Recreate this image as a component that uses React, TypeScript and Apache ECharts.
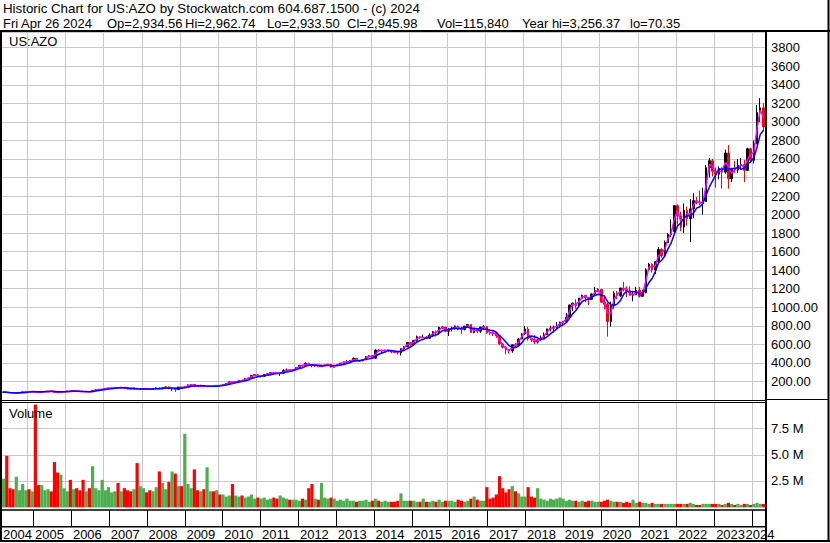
import React, { useEffect, useRef } from "react";
import * as echarts from "echarts";

// ---------- data (monthly, May 2004 .. Apr 2024) ----------
const FIRST_YEAR = 2004;
const FIRST_MONTH = 5; // May
const firstOpen = 84;

const closes = [
  85.5, 80.0, 77.5, 74.5, 75.0, 82.0, 87.5, 91.3,
  89.3, 93.1, 85.7, 82.5, 89.6, 93.0, 96.5, 95.5, 83.3, 80.8, 88.0, 91.7,
  98.0, 95.6, 99.7, 93.6, 88.9, 88.2, 90.9, 88.9, 103.2, 112.8, 114.3, 115.6,
  125.6, 126.8, 128.1, 133.1, 131.4, 136.6, 129.5, 120.7, 116.2, 125.0, 116.5, 119.9,
  120.8, 116.1, 113.8, 120.8, 129.6, 121.0, 130.8, 140.4, 123.3, 127.3, 113.7, 139.5,
  133.0, 142.2, 162.6, 166.8, 151.8, 151.1, 153.7, 145.7, 146.2, 147.9, 147.3, 158.1,
  155.0, 166.8, 177.0, 195.6, 193.0, 193.2, 211.8, 208.8, 228.9, 237.6, 264.7, 272.6,
  253.3, 256.5, 273.6, 282.4, 295.1, 295.0, 285.7, 288.7, 319.2, 323.6, 323.4, 325.0,
  348, 374, 372, 396, 381, 367, 375, 360, 373, 375, 385, 354,
  371, 380, 397, 411, 412, 424, 449, 420, 424, 434, 468, 478,
  451, 538, 532, 534, 536, 536, 518, 516, 510, 553, 577, 619,
  597, 643, 682, 673, 677, 666, 701, 735, 724, 784, 786, 742,
  765, 775, 797, 766, 762, 795, 814, 729, 768, 742, 785, 790,
  725, 724, 723, 692, 605, 570, 540, 529, 595, 590, 657, 711,
  766, 664, 649, 625, 649, 670, 705, 767, 776, 784, 806, 838,
  847, 892, 1024, 1044, 1017, 1099, 1128, 1101, 1085, 1144, 1178, 1191,
  1054, 1033, 846, 1017, 1149, 1128, 1207, 1197, 1178, 1129, 1137, 1185,
  1119, 1160, 1404, 1464, 1405, 1492, 1624, 1553, 1698, 1785, 1817, 2096,
  1986, 1865, 2045, 1956, 2061, 2149, 2137, 2121, 2142, 2505, 2580, 2466,
  2435, 2487, 2458, 2664, 2387, 2493, 2482, 2532, 2540, 2477, 2710, 2586,
  2762, 3100, 3151, 2945,
];

const highs = [
  88, 87, 81, 78, 78, 83, 88, 93,
  92, 96, 95, 88, 91, 94, 99, 100, 97, 85, 89, 93,
  99, 100, 101, 101, 95, 92, 93, 94, 104, 114, 116, 118,
  127, 129, 131, 135, 137, 138, 140, 132, 122, 127, 126, 124,
  122, 124, 120, 123, 136, 133, 134, 143, 148, 131, 130, 141,
  141, 146, 165, 172, 168, 155, 156, 155, 151, 150, 152, 160,
  162, 168, 178, 198, 197, 200, 213, 213, 233, 240, 266, 275,
  275, 261, 275, 285, 300, 302, 298, 295, 332, 340, 334, 330,
  350, 375, 378, 406, 404, 385, 381, 375, 380, 380, 388, 388,
  375, 384, 400, 413, 430, 430, 458, 452, 432, 440, 470, 480,
  485, 545, 552, 543, 542, 540, 538, 525, 524, 556, 580, 625,
  625, 646, 695, 689, 705, 690, 720, 744, 750, 790, 795, 788,
  775, 790, 805, 802, 790, 800, 819, 815, 775, 770, 790, 810,
  800, 740, 745, 725, 700, 615, 580, 540, 600, 615, 670, 720,
  797, 790, 671, 700, 660, 695, 728, 770, 800, 803, 840, 845,
  850, 940, 1030, 1050, 1085, 1101, 1137, 1130, 1110, 1150, 1220, 1205,
  1198, 1130, 1050, 1060, 1172, 1175, 1212, 1275, 1225, 1227, 1176, 1220,
  1220, 1190, 1420, 1480, 1475, 1494, 1650, 1640, 1720, 1800, 1950, 2100,
  2110, 2030, 2120, 2085, 2165, 2230, 2190, 2260, 2290, 2535, 2610, 2600,
  2510, 2520, 2510, 2700, 2750, 2500, 2580, 2600, 2610, 2590, 2720, 2720,
  2800, 3180, 3256, 3200,
];

const lows = [
  79, 79, 75, 70.4, 72, 74, 80, 86,
  85, 88, 84, 74, 81, 87, 92, 92, 82, 78, 80, 86,
  91, 94, 94, 92, 86, 86, 87, 87, 88, 102, 110, 112,
  114, 122, 122, 127, 128, 129, 127, 115, 114, 115, 112, 114,
  108, 112, 108, 112, 119, 117, 118, 128, 115, 100, 87, 110,
  128, 131, 139, 157, 150, 146, 146, 142, 141, 142, 142, 145,
  152, 153, 165, 176, 182, 188, 193, 201, 205, 226, 235, 256,
  250, 244, 250, 270, 280, 283, 282, 260, 285, 307, 312, 318,
  323, 345, 359, 370, 366, 352, 359, 356, 358, 365, 368, 349,
  353, 366, 378, 388, 395, 405, 420, 415, 418, 418, 433, 460,
  446, 452, 520, 507, 519, 520, 503, 505, 494, 480, 540, 574,
  585, 592, 630, 658, 668, 662, 661, 690, 685, 700, 765, 730,
  690, 740, 760, 752, 715, 750, 790, 724, 720, 720, 725, 764,
  715, 700, 690, 670, 590, 556, 491, 500, 510, 560, 590, 655,
  700, 640, 625, 604, 609, 636, 666, 705, 740, 727, 765, 785,
  795, 840, 880, 960, 985, 1012, 1090, 1055, 1025, 1080, 1130, 1165,
  1045, 978, 684, 792, 985, 1090, 1110, 1170, 1110, 1125, 1065, 1130,
  1105, 1115, 1150, 1390, 1375, 1360, 1470, 1535, 1540, 1700, 1760, 1790,
  1890, 1820, 1800, 1880, 1703, 1960, 2110, 2100, 2000, 2140, 2400, 2410,
  2290, 2380, 2280, 2440, 2280, 2350, 2450, 2450, 2490, 2350, 2480, 2560,
  2550, 2760, 3000, 2900,
];

// volume in millions of shares
const volumes = [
  2.7, 4.9, 1.8, 1.7, 2.9, 1.6, 2.2, 1.6,
  1.7, 1.5, 9.8, 2.1, 2.1, 1.6, 1.7, 1.5, 4.3, 3.3, 3.1, 1.8,
  1.5, 2.6, 1.7, 1.8, 1.6, 2.6, 1.5, 1.8, 3.9, 1.8, 1.6, 2.6,
  1.6, 1.9, 1.4, 1.5, 2.3, 1.5, 1.8, 1.6, 1.5, 1.7, 4.2, 2.0,
  1.8, 1.4, 1.6, 1.5, 1.9, 3.4, 2.3, 1.7, 2.4, 3.4, 3.2, 2.0,
  2.0, 7.0, 2.2, 1.8, 3.6, 1.6, 1.5, 1.7, 3.8, 1.5, 1.5, 1.6,
  1.2, 1.2, 1.0, 1.1, 2.2, 1.1, 1.0, 1.1, 0.9, 1.0, 1.2, 0.8,
  0.9, 0.8, 0.9, 0.7, 0.8, 0.9, 0.8, 1.1, 0.9, 0.8, 0.7, 0.7,
  0.7, 0.6, 0.8, 0.7, 1.8, 2.2, 0.8, 0.7, 2.3, 0.9, 0.8, 0.9,
  0.8, 0.6, 0.7, 0.6, 0.8, 0.6, 0.6, 0.5, 0.6, 0.6, 0.7, 0.5,
  0.6, 0.8, 0.6, 0.5, 0.6, 0.5, 0.5, 0.5, 0.6, 1.3, 0.6, 0.6,
  0.6, 0.6, 0.5, 0.5, 0.8, 0.5, 0.5, 0.6, 0.5, 0.7, 0.5, 0.6,
  0.6, 0.6, 0.5, 0.7, 0.6, 0.5, 0.6, 0.8, 1.0, 0.7, 0.6, 0.6,
  1.9, 0.8, 0.9, 1.2, 2.95, 1.8, 1.4, 1.7, 2.0, 1.5, 1.3, 1.0,
  1.0, 1.9, 1.0, 0.9, 1.8, 0.8, 0.7, 0.6, 0.8, 0.7, 0.8, 0.9,
  0.8, 0.6, 0.7, 0.6, 0.6, 0.5, 0.6, 0.5, 0.6, 0.6, 0.5, 0.5,
  0.5, 0.6, 0.7, 0.6, 0.5, 0.5, 0.5, 0.4, 0.5, 0.4, 0.7, 0.4,
  0.5, 0.4, 0.4, 0.3, 0.4, 0.3, 0.3, 0.3, 0.3, 0.3, 0.3, 0.3,
  0.3, 0.3, 0.3, 0.3, 0.4, 0.3, 0.2, 0.2, 0.3, 0.3, 0.3, 0.3,
  0.3, 0.3, 0.2, 0.3, 0.4, 0.3, 0.2, 0.3, 0.2, 0.3, 0.3, 0.2,
  0.3, 0.4, 0.3, 0.3,
];

const headerLine1 = "Historic Chart for US:AZO by Stockwatch.com 604.687.1500 - (c) 2024";
const headerLine2Parts = [
  "Fri Apr 26 2024",
  "Op=2,934.56",
  "Hi=2,962.74",
  "Lo=2,933.50",
  "Cl=2,945.98",
  "Vol=115,840",
  "Year hi=3,256.37",
  "lo=70.35",
];
const symbolLabel = "US:AZO";
const volumeLabel = "Volume";

const SHORT_MA = 2; // months
const LONG_MA = 5; // months

// ---------- derived tables ----------
const categoryNames: string[] = closes.map((_, i) => {
  const m0 = FIRST_MONTH - 1 + i;
  const y = FIRST_YEAR + Math.floor(m0 / 12);
  const m = (m0 % 12) + 1;
  return `${y}-${m < 10 ? "0" + m : m}`;
});
const isJan = (i: number) => !!categoryNames[i] && categoryNames[i].endsWith("-01");
// the partial first year is labelled on its last month, right-aligned
const firstYearLabelIdx = categoryNames.findIndex((c) => c.endsWith("-12"));
const lastJanIdx = categoryNames.reduce((acc, c, i) => (c.endsWith("-01") ? i : acc), -1);

const categories = categoryNames.map((c, i) => {
  if (i === firstYearLabelIdx) return { value: c, textStyle: { align: "right" } };
  if (i === lastJanIdx)
    return { value: c, textStyle: { align: "center", padding: [0, 0, 0, 12] } };
  return c;
});

const opens = closes.map((c, i) => (i === 0 ? firstOpen : closes[i - 1]));
const candleData = closes.map((c, i) => [opens[i], c, lows[i], highs[i]]);

const movingAvg = (n: number) =>
  closes.map((_, i) => {
    const s = Math.max(0, i - n + 1);
    let sum = 0;
    for (let k = s; k <= i; k++) sum += closes[k];
    return +(sum / (i - s + 1)).toFixed(2);
  });

const GREEN = "#4cae4c";
const RED = "#ff0000";
const volumeData = volumes.map((v, i) => ({
  value: v,
  itemStyle: { color: closes[i] >= opens[i] ? GREEN : RED },
}));

const FONT = '"Liberation Sans", Arial, sans-serif';
const GRID_COLOR = "#c8c8c8";

export default function App() {
  const ref = useRef<HTMLDivElement>(null);

  useEffect(() => {
    document.body.style.margin = "0";
    if (!ref.current) return;
    const chart = echarts.init(ref.current, undefined, { renderer: "svg" });

    const plotLeft = 2;
    const plotRight = 65; // 830 - 765

    const textEl = (text: string, x: number, y: number, size = 13) => ({
      type: "text",
      x,
      y,
      z: 100,
      style: {
        text,
        fill: "#000",
        fontSize: size,
        fontFamily: FONT,
        verticalAlign: "middle",
      },
    });
    const lineEl = (x1: number, y1: number, x2: number, y2: number, w: number) => ({
      type: "line",
      z: 100,
      shape: { x1, y1, x2, y2 },
      style: { stroke: "#000", lineWidth: w },
    });

    const header2X = [3, 107, 185, 267, 347, 437, 522, 630];

    const option: any = {
      animation: false,
      backgroundColor: "#fff",
      textStyle: { fontFamily: FONT },
      grid: [
        { left: plotLeft, right: plotRight, top: 32, height: 368 },
        { left: plotLeft, right: plotRight, top: 402.5, height: 104.5 },
        { left: plotLeft, right: plotRight, top: 510, height: 16.5 },
      ],
      xAxis: [0, 1, 2].map((g) => ({
        type: "category",
        gridIndex: g,
        data: categories,
        boundaryGap: true,
        axisLine: { show: false },
        axisTick: { show: false },
        splitLine: {
          show: true,
          interval: (i: number) => isJan(i),
          lineStyle: { color: g === 2 ? "#000" : GRID_COLOR, width: 1 },
        },
        axisLabel:
          g === 2
            ? {
                show: true,
                hideOverlap: false,
                interval: (i: number) => i === firstYearLabelIdx || isJan(i),
                formatter: (v: string) => v.slice(0, 4),
                align: "left",
                margin: 1,
                color: "#000",
                fontSize: 13,
                fontFamily: FONT,
              }
            : { show: false },
      })),
      yAxis: [
        {
          type: "value",
          gridIndex: 0,
          position: "right",
          min: 0,
          max: 3969,
          interval: 200,
          axisLine: { show: false },
          axisTick: { show: false },
          splitLine: { show: true, lineStyle: { color: GRID_COLOR, width: 1 } },
          axisLabel: {
            margin: 6,
            color: "#000",
            fontSize: 13,
            fontFamily: FONT,
            formatter: (v: number) => {
              if (v <= 0 || v % 200 !== 0) return "";
              return v > 1000 ? String(v) : v.toFixed(2);
            },
          },
        },
        {
          type: "value",
          gridIndex: 1,
          position: "right",
          min: 0,
          max: 10,
          interval: 2.5,
          axisLine: { show: false },
          axisTick: { show: false },
          splitLine: { show: true, lineStyle: { color: GRID_COLOR, width: 1 } },
          axisLabel: {
            margin: 6,
            color: "#000",
            fontSize: 13,
            fontFamily: FONT,
            formatter: (v: number) => (v > 0 && v < 10 ? v.toFixed(1) + " M" : ""),
          },
        },
        { type: "value", gridIndex: 2, show: false },
      ],
      series: [
        {
          type: "candlestick",
          xAxisIndex: 0,
          yAxisIndex: 0,
          data: candleData,
          barWidth: 2,
          itemStyle: {
            color: "#000",
            color0: RED,
            borderColor: "#000",
            borderColor0: RED,
            borderWidth: 1,
          },
        },
        {
          type: "line",
          xAxisIndex: 0,
          yAxisIndex: 0,
          data: movingAvg(SHORT_MA),
          showSymbol: false,
          lineStyle: { color: "#ff00ff", width: 1.5 },
          z: 3,
        },
        {
          type: "line",
          xAxisIndex: 0,
          yAxisIndex: 0,
          data: movingAvg(LONG_MA),
          showSymbol: false,
          lineStyle: { color: "#0000ff", width: 1.5 },
          z: 4,
        },
        {
          type: "bar",
          xAxisIndex: 1,
          yAxisIndex: 1,
          data: volumeData,
          barCategoryGap: "0%",
        },
      ],
      graphic: [
        textEl(headerLine1, 3, 8, 13.3),
        ...headerLine2Parts.map((t, i) => textEl(t, header2X[i], 23, 13)),
        textEl(symbolLabel, 9, 41.5),
        textEl(volumeLabel, 9, 413),
        // frame
        lineEl(0, 31, 830, 31, 2),
        lineEl(1, 31, 1, 542, 2),
        lineEl(828.5, 0, 828.5, 542, 2),
        lineEl(0, 541, 830, 541, 2),
        lineEl(766, 31, 766, 542, 2),
        // price / volume separator
        lineEl(2, 400.5, 765, 400.5, 1),
        lineEl(2, 402.5, 765, 402.5, 1),
        lineEl(767, 399.5, 828, 399.5, 1),
        // time scale box
        lineEl(0, 510, 766, 510, 1.5),
        lineEl(0, 526.7, 766, 526.7, 1.5),
      ],
    };

    chart.setOption(option);
    return () => chart.dispose();
  }, []);

  return (
    <div
      ref={ref}
      style={{ width: 830, height: 543, position: "absolute", left: 0, top: 0 }}
    />
  );
}
